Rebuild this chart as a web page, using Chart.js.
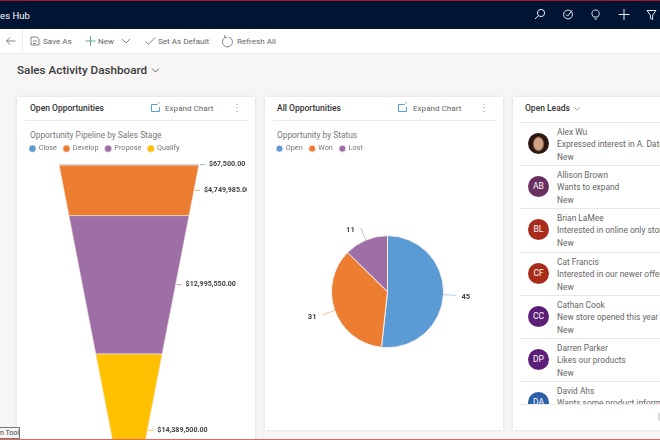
<!DOCTYPE html>
<html>
<head>
<meta charset="utf-8">
<script src="https://cdn.jsdelivr.net/npm/chart.js@4/dist/chart.umd.min.js"></script>
<style>
html, body { margin: 0; padding: 0; }
body { width: 660px; height: 440px; overflow: hidden; position: relative; background: #f7f6f5; font-family: Roboto, sans-serif; color: #666; font-size: 9px; }
.abs { position: absolute; white-space: nowrap; }
#topbar { left: 0; top: 0; width: 660px; height: 29px; background: #001433; border-top: 1px solid #a8182a; box-sizing: border-box; }
#toolbar { left: 0; top: 29px; width: 660px; height: 25px; background: #fff; border-bottom: 1px solid #efedeb; box-sizing: border-box; }
.tool { top: 36px; color: #666; font-size: 8.1px; line-height: 11px; }
.card { background: #fff; box-shadow: 0 0 3px rgba(0,0,0,.12); }
.cardHead { top: 102px; font-size: 8.5px; font-weight: 500; color: #333; line-height: 12px; }
.expand { top: 102px; font-size: 8.1px; color: #666; line-height: 12px; }
.dots { top: 101px; font-size: 10px; color: #999; line-height: 14px; }
.rule { height: 1px; background: #edebe9; }
.chartTitle { top: 129px; font-size: 8.35px; color: #777; line-height: 12px; }
canvas { position: absolute; }
#leadList { left: 520px; top: 122px; width: 140px; height: 282px; overflow: hidden; border-bottom: 1px solid #edebe9; box-sizing: content-box; }
.lead { position: relative; height: 43.2px; border-top: 1px solid #e8e6e4; box-sizing: border-box; }
.avatar { position: absolute; left: 8px; top: 10px; width: 21px; height: 21px; border-radius: 50%; color: #fff; text-align: center; line-height: 21px; font-size: 8.5px; }
.leadLine { position: absolute; left: 37px; font-size: 8.4px; line-height: 12px; color: #666; white-space: nowrap; }
svg { position: absolute; overflow: visible; fill: none; }
</style>
</head>
<body>
<div class="abs" id="topbar"></div>
<div class="abs" style="left:-13px;top:10px;color:#fff;font-size:9.5px;line-height:12px">Sales Hub</div>
<svg style="left:0;top:0" width="660" height="29" stroke="#e8ecf2" stroke-width="1">
  <circle cx="541" cy="13" r="3.6"/><path d="M538.4 15.6 L535 19"/>
  <circle cx="568" cy="14.5" r="4.4"/><path d="M566 14.5 l1.6 1.6 l4.4 -5.6"/>
  <path d="M593.6 17 c-3 -3 -1.6 -7 2 -7 c3.6 0 5 4 2 7 Z M594.4 19 h2.6"/>
  <path d="M624 9 v11 M618.6 14.5 h11"/>
  <path d="M647 10.5 h9 l-3.4 4.6 v4.4 l-2.2 -1.2 v-3.2 Z"/>
</svg>
<div class="abs" id="toolbar"></div>
<div class="abs" style="left:22px;top:29px;width:1px;height:25px;background:#efedeb"></div>
<svg style="left:0;top:29px" width="300" height="25" stroke="#666" stroke-width="0.8">
  <path d="M6.5 12 h9 M6.5 12 l3.6 -3.6 M6.5 12 l3.6 3.6"/>
  <path d="M31 8 h6 l2 2 v6 h-8 Z M33 12 h4 M33 14.5 h3"/>
  <path d="M85.5 12 h10 M90.5 7 v10" stroke="#3f9a70"/>
  <path d="M122 10 l4 4 l4 -4"/>
  <path d="M145.5 12.5 l3 3 l6.5 -7"/>
  <path d="M225 8.6 a5 5 0 1 0 4 -0.4 M225 8.6 l-0.4 -2.6 M225 8.6 l2.4 -0.6"/>
</svg>
<div class="abs tool" style="left:43px">Save As</div>
<div class="abs tool" style="left:98px">New</div>
<div class="abs tool" style="left:158px">Set As Default</div>
<div class="abs tool" style="left:237px">Refresh All</div>
<div class="abs" style="left:17px;top:61px;font-size:11.7px;font-weight:500;color:#3b3a39;line-height:18px">Sales Activity Dashboard</div>
<svg style="left:0;top:60px" width="170" height="20" stroke="#555" stroke-width="0.9"><path d="M152 8.5 l3.5 3.5 l3.5 -3.5"/></svg>

<div class="abs card" style="left:17px;top:97px;width:238px;height:345px"></div>
<div class="abs card" style="left:265px;top:97px;width:238px;height:333px"></div>
<div class="abs card" style="left:513px;top:97px;width:150px;height:333px"></div>

<div class="abs cardHead" style="left:30px">Open Opportunities</div>
<div class="abs expand" style="left:165px">Expand Chart</div>
<div class="abs dots" style="left:232px">⋮</div>
<div class="abs rule" style="left:25px;top:120px;width:223px"></div>
<div class="abs chartTitle" style="left:30px">Opportunity Pipeline by Sales Stage</div>

<div class="abs cardHead" style="left:277px">All Opportunities</div>
<div class="abs expand" style="left:413px">Expand Chart</div>
<div class="abs dots" style="left:479px">⋮</div>
<div class="abs rule" style="left:273px;top:120px;width:223px"></div>
<div class="abs chartTitle" style="left:277px">Opportunity by Status</div>

<svg style="left:0;top:100px" width="500" height="16" stroke="#2b88d8" stroke-width="0.8">
  <path d="M151.5 4.5 h6 M159.5 7 v4.5 h-8 v-7"/><path d="M158 2 l1.5 1.5" />
  <path d="M398.5 4.5 h6 M406.5 7 v4.5 h-8 v-7"/><path d="M405 2 l1.5 1.5"/>
</svg>

<div class="abs cardHead" style="left:525px">Open Leads</div>
<svg style="left:570px;top:100px" width="20" height="16" stroke="#888" stroke-width="0.7"><path d="M4 7 l3 3 l3 -3"/></svg>
<div class="abs" id="leadList"></div>
<div class="abs" style="left:658px;top:413px;width:2px;height:8px;background:#ddd"></div>

<canvas id="funnelChart"></canvas>
<canvas id="statusChart"></canvas>

<div class="abs" style="left:-1px;top:427px;width:21px;height:12px;background:#f4f4f4;border:1px solid #777;font-size:7px;line-height:11px;color:#444;overflow:hidden;text-align:right;box-sizing:border-box">n Tool</div>
<div class="abs" style="left:0;top:439px;width:660px;height:1px;background:#e2685f"></div>

<script>
const stageNames = ['Close', 'Develop', 'Propose', 'Qualify'];
const stageValues = [67500, 4749985, 12995550, 14389500];
const stageColors = ['#5b9bd5', '#ed7d31', '#9e6fa6', '#ffc000'];

const statusNames = ['Open', 'Won', 'Lost'];
const statusValues = [45, 31, 11];
const statusColors = ['#5b9bd5', '#ed7d31', '#9e6fa6'];

const leadNames = ['Alex Wu', 'Allison Brown', 'Brian LaMee', 'Cat Francis', 'Cathan Cook', 'Darren Parker', 'David Ahs'];
const leadNotes = ['Expressed interest in A. Datum', 'Wants to expand', 'Interested in online only store', 'Interested in our newer offering', 'New store opened this year -', 'Likes our products', 'Wants some product information'];
const leadInitials = ['', 'AB', 'BL', 'CF', 'CC', 'DP', 'DA'];
const leadColors = ['', '#68305f', '#a92b1a', '#a92b1a', '#5c1f78', '#5c1f78', '#2b5fa8'];

const legendLabelColor = '#777';
const neckRatio = 0.05; // bottom width of the funnel against its top

// right column of leads
const list = document.getElementById('leadList');
leadNames.forEach((name, i) => {
    const row = document.createElement('div');
    row.className = 'lead';
    const avatarStyle = leadColors[i]
        ? 'background:' + leadColors[i]
        : 'background:radial-gradient(ellipse 6px 8px at 50% 52%, #d2a284 0 70%, #2c1710 100%)';
    row.innerHTML = '<div class="avatar" style="' + avatarStyle + '">' + leadInitials[i] + '</div>'
        + '<div class="leadLine" style="top:3px">' + name + '</div>'
        + '<div class="leadLine" style="top:15px">' + leadNotes[i] + '</div>'
        + '<div class="leadLine" style="top:28px">New</div>';
    list.appendChild(row);
});

function place(canvas, left, top, width, height) {
    canvas.style.left = left + 'px';
    canvas.style.top = top + 'px';
    canvas.style.width = width + 'px';
    canvas.style.height = height + 'px';
    canvas.width = width;
    canvas.height = height;
}

const legendOptions = {
    position: 'top',
    align: 'start',
    labels: {
        usePointStyle: true,
        pointStyle: 'circle',
        boxWidth: 5,
        boxHeight: 5,
        padding: 7,
        color: legendLabelColor,
        font: { family: 'Roboto', size: 7.3 }
    }
};

// a little more room between the legend and the plot
const legendGap = {
    id: 'legendGap',
    beforeInit(chart) {
        const fit = chart.legend.fit;
        chart.legend.fit = function () {
            fit.call(this);
            this.height += 2;
        };
    }
};

// funnel stages: y is running total, x is half width that narrows with it
const total = stageValues.reduce((a, b) => a + b, 0);
const halfWidth = c => 1 - (1 - neckRatio) * c / total;
let running = 0;
const funnelSets = stageValues.map((v, i) => {
    const a = running, b = running + v;
    running = b;
    return {
        label: stageNames[i],
        data: [
            { x: -halfWidth(a), y: a }, { x: halfWidth(a), y: a },
            { x: halfWidth(b), y: b }, { x: -halfWidth(b), y: b },
            { x: -halfWidth(a), y: a }
        ],
        showLine: true,
        fill: 'shape',
        backgroundColor: stageColors[i],
        borderColor: '#f3e3dc',
        borderWidth: 0.6,
        pointRadius: 0,
        tension: 0
    };
});

const funnelLabels = {
    id: 'funnelLabels',
    afterDatasetsDraw(chart) {
        const { ctx, scales: { x, y } } = chart;
        let sum = 0;
        ctx.save();
        ctx.font = '700 7.1px Roboto';
        ctx.textBaseline = 'middle';
        stageValues.forEach((v, i) => {
            const mid = sum + v / 2;
            sum += v;
            const edge = x.getPixelForValue(halfWidth(mid));
            const py = y.getPixelForValue(mid);
            ctx.strokeStyle = stageColors[i];
            ctx.lineWidth = 0.7;
            ctx.beginPath();
            ctx.moveTo(edge + 1, py);
            ctx.lineTo(edge + 6, py);
            ctx.stroke();
            ctx.fillStyle = '#444';
            ctx.fillText('$' + v.toLocaleString('en-US', { minimumFractionDigits: 2 }), edge + 10, py);
        });
        ctx.restore();
    }
};

const funnelCanvas = document.getElementById('funnelChart');
place(funnelCanvas, 23, 138, 224, 369);
new Chart(funnelCanvas, {
    type: 'scatter',
    data: { datasets: funnelSets },
    options: {
        responsive: false,
        animation: false,
        layout: { padding: 0 },
        plugins: { legend: legendOptions, tooltip: { enabled: false } },
        scales: {
            x: { type: 'linear', display: false, min: -1.514, max: 1.686 },
            y: { type: 'linear', display: false, reverse: true, min: 0, max: total }
        }
    },
    plugins: [legendGap, funnelLabels]
});

const statusLabels = {
    id: 'statusLabels',
    afterDatasetsDraw(chart) {
        const { ctx } = chart;
        ctx.save();
        ctx.font = '700 7.6px Roboto';
        ctx.textBaseline = 'middle';
        chart.getDatasetMeta(0).data.forEach((arc, i) => {
            const { x, y, startAngle, endAngle, outerRadius } = arc.getProps(['x', 'y', 'startAngle', 'endAngle', 'outerRadius'], true);
            const mid = (startAngle + endAngle) / 2;
            const cos = Math.cos(mid), sin = Math.sin(mid);
            const endX = x + cos * (outerRadius + 13), endY = y + sin * (outerRadius + 13);
            ctx.strokeStyle = statusColors[i];
            ctx.globalAlpha = 0.6;
            ctx.lineWidth = 0.8;
            ctx.beginPath();
            ctx.moveTo(x + cos * outerRadius, y + sin * outerRadius);
            ctx.lineTo(endX, endY);
            ctx.stroke();
            ctx.globalAlpha = 1;
            ctx.fillStyle = '#444';
            ctx.textAlign = cos >= 0 ? 'left' : 'right';
            ctx.fillText(String(statusValues[i]), endX + (cos >= 0 ? 5 : -6), endY + 2);
        });
        ctx.restore();
    }
};

const statusCanvas = document.getElementById('statusChart');
place(statusCanvas, 270, 138, 235, 281);
new Chart(statusCanvas, {
    type: 'pie',
    data: {
        labels: statusNames,
        datasets: [{
            data: statusValues,
            backgroundColor: statusColors,
            borderColor: '#f6eee9',
            borderWidth: 1,
            radius: 56
        }]
    },
    options: {
        responsive: false,
        animation: false,
        layout: { padding: 0 },
        plugins: { legend: legendOptions, tooltip: { enabled: false } }
    },
    plugins: [legendGap, statusLabels]
});
</script>
</body>
</html>
